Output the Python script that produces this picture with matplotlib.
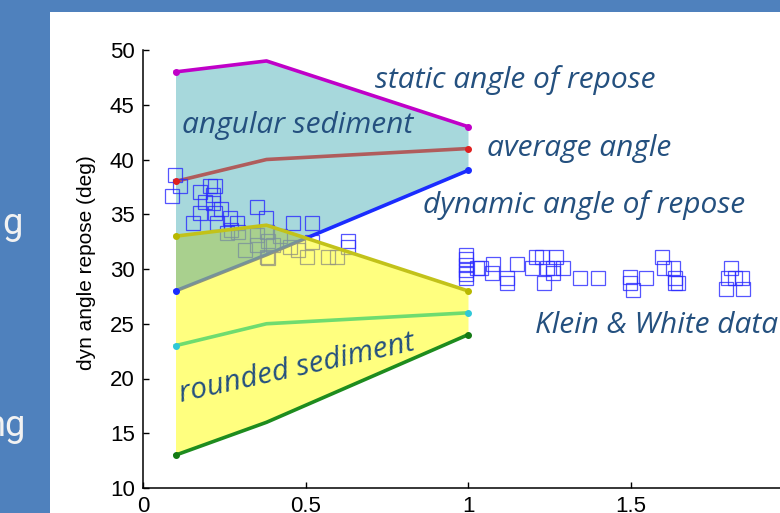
import matplotlib
matplotlib.use("Agg")
import matplotlib.pyplot as plt
from matplotlib.patches import Rectangle

# grain shape curves (x = grain size, y = angle in deg)
x_pts = [0.1, 0.38, 1.0]
ang_static = [48, 49, 43]
ang_avg = [38, 40, 41]
ang_dyn = [28, 31.3, 39]
rnd_static = [33, 34, 28]
rnd_avg = [23, 25, 26]
rnd_dyn = [13, 16, 24]

# Klein & White data
kw_x = [0.098, 0.114, 0.089, 0.175, 0.19, 0.206, 0.222, 0.215, 0.215, 0.175,
        0.222, 0.154, 0.227, 0.268, 0.289, 0.35, 0.378, 0.258, 0.292, 0.35,
        0.38, 0.385, 0.314, 0.35, 0.38, 0.46, 0.52, 0.477, 0.504, 0.57,
        0.596, 0.63, 0.63, 0.385, 0.452, 0.52, 0.42, 0.40, 0.24, 0.27,
        0.994, 0.994, 0.994, 0.994, 0.994, 0.994, 1.027, 1.04, 1.077, 1.073,
        1.12, 1.12, 1.15, 1.197, 1.21, 1.227, 1.243, 1.234, 1.262, 1.271,
        1.262, 1.293, 1.345, 1.40, 1.498, 1.498, 1.508, 1.548, 1.597, 1.603,
        1.63, 1.637, 1.637, 1.646, 1.81, 1.80, 1.82, 1.843, 1.795, 1.846]
kw_y = [38.6, 37.6, 36.7, 37.0, 36.1, 37.6, 37.6, 36.8, 36.0, 35.1,
        35.1, 34.2, 34.2, 34.7, 34.2, 35.7, 34.7, 33.3, 33.4, 33.1,
        33.4, 32.6, 31.7, 32.2, 31.1, 34.2, 34.2, 31.7, 31.1, 31.1,
        31.1, 32.6, 32.0, 31.0, 32.0, 32.5, 33.0, 32.2, 35.5, 33.6,
        31.3, 30.9, 30.4, 29.9, 29.5, 29.2, 30.1, 30.1, 30.5, 29.6,
        29.2, 28.7, 30.5, 30.1, 31.1, 31.1, 30.1, 28.7, 29.6, 31.1,
        30.1, 30.1, 29.2, 29.2, 29.3, 28.7, 28.1, 29.2, 31.1, 30.1,
        30.1, 29.2, 28.7, 28.7, 30.1, 29.2, 29.2, 29.2, 28.2, 28.2]

x_ticks = [0, 0.5, 1, 1.5, 2]
x_tick_labels = ["0", "0.5", "1", "1.5", "2"]
y_ticks = [10, 15, 20, 25, 30, 35, 40, 45, 50]

label_color = "#24507f"
label_font = dict(family="Open Sans", style="italic", fontsize=21.5, color=label_color,
                  zorder=8)

fig = plt.figure(figsize=(7.8, 5.13), dpi=100, facecolor="#4f81bd")
# white slide panel
fig.patches.append(Rectangle((50 / 780, 0), 1, 1 - 12 / 513, transform=fig.transFigure,
                             facecolor="white", edgecolor="none", zorder=-5))
slide_font = dict(fontsize=26, family="Roboto", color="#f2f2f2")
fig.text(23 / 780, 1 - 234 / 513, "g", ha="right", va="baseline", **slide_font)
fig.text(26 / 780, 1 - 436 / 513, "ng", ha="right", va="baseline", **slide_font)

ax = fig.add_axes([143 / 780, 25 / 513, 650 / 780, 438 / 513])
ax.set_zorder(2)
ax.set_facecolor("none")

# angular sediment band
ax.fill_between(x_pts, ang_dyn, ang_static, color="#a7d8dc", lw=0, zorder=1)
ax.plot(x_pts, ang_static, color="#c000c8", lw=2.6, zorder=2)
ax.plot(x_pts, ang_avg, color="#b05c5c", lw=2.6, zorder=2)
ax.plot(x_pts, ang_dyn, color="#1a2cff", lw=2.6, zorder=2)

ax.plot(kw_x, kw_y, ls="none", marker="s", markersize=10, markerfacecolor="none",
        markeredgecolor="#2a2aff", markeredgewidth=0.9, alpha=0.8, zorder=3)

# rounded sediment band (translucent, over the angular data)
ax.fill_between(x_pts, rnd_dyn, rnd_static, color="#ffff00", alpha=0.5, lw=0, zorder=4)
ax.fill_between(x_pts, ang_dyn, rnd_static, where=[s > d for s, d in zip(rnd_static, ang_dyn)],
                interpolate=True, color="#3c8ce6", alpha=0.28, lw=0, zorder=4)
ax.plot(x_pts, rnd_static, color="#c2c21a", lw=2.6, zorder=5)
ax.plot(x_pts, rnd_avg, color="#6fdc6f", lw=2.6, zorder=5)
ax.plot(x_pts, rnd_dyn, color="#1e8c1e", lw=2.6, zorder=5)

# vertex dots
dot_series = [(ang_static, "#c000c8"), (ang_avg, "#e02020"), (ang_dyn, "#1a2cff"),
              (rnd_static, "#b8b800"), (rnd_avg, "#30c8d8"), (rnd_dyn, "#137a13")]
for ys, c in dot_series:
    ax.plot([x_pts[0], x_pts[-1]], [ys[0], ys[-1]], ls="none", marker="o",
            markersize=4, color=c, zorder=6)

ax.text(0.714, 47.3, "static angle of repose", va="center", ha="left", **label_font)
ax.text(0.12, 43.15, "angular sediment", va="center", ha="left", **label_font)
ax.text(1.058, 41.0, "average angle", va="center", ha="left", **label_font)
ax.text(0.862, 35.85, "dynamic angle of repose", va="center", ha="left", **label_font)
ax.text(1.206, 24.8, "Klein & White data", va="center", ha="left", **label_font)
ax.text(0.475, 20.9, "rounded sediment", va="center", ha="center", rotation=12.5,
        rotation_mode="anchor", **label_font)

ax.set_xlim(0, 2)
ax.set_ylim(10, 50)
ax.set_xticks(x_ticks)
ax.set_xticklabels(x_tick_labels)
ax.set_yticks(y_ticks)
for s in ["top", "right"]:
    ax.spines[s].set_visible(False)
for s in ["left", "bottom"]:
    ax.spines[s].set_linewidth(1.1)
ax.tick_params(direction="in", length=4, width=1, labelsize=16, pad=6)
for lab in ax.get_xticklabels() + ax.get_yticklabels():
    lab.set_family("Liberation Sans")

fig.text(87 / 780, 1 - 263 / 513, "dyn angle repose (deg)", rotation=90,
         ha="center", va="center", fontsize=15, family="Liberation Sans")

fig.savefig("out.png", dpi=100, facecolor=fig.get_facecolor())
